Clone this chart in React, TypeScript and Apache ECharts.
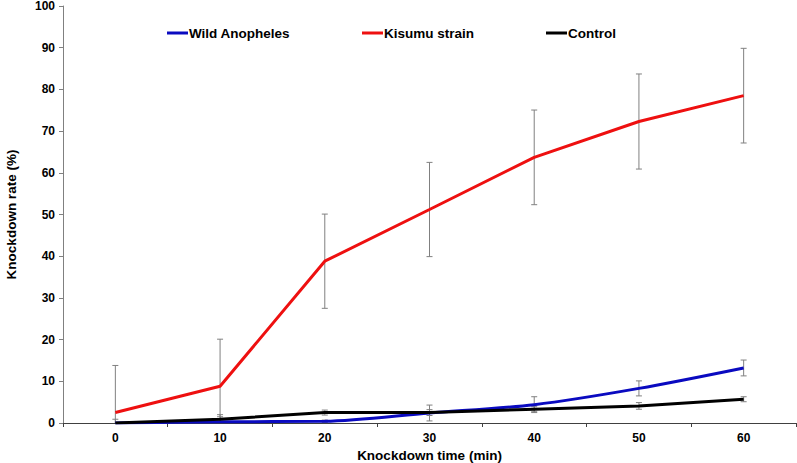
import React, { useEffect, useRef } from "react";
import * as echarts from "echarts";

const categories = ["0", "10", "20", "30", "40", "50", "60"];
const wildValues = [0, 0.3, 0.4, 2.4, 4.4, 8.3, 13.2];
const wildErrors = [0, 1.2, 0.3, 1.9, 1.9, 1.8, 1.9];
const kisumuValues = [2.5, 8.8, 38.8, 51.2, 63.7, 72.3, 78.5];
const kisumuErrors = [11.3, 11.3, 11.3, 11.3, 11.35, 11.4, 11.35];
const controlValues = [0, 0.9, 2.5, 2.5, 3.3, 4.1, 5.7];
const controlErrors = [0.9, 1.1, 0.6, 0.7, 0.6, 0.8, 0.6];
const yTicks = [0, 10, 20, 30, 40, 50, 60, 70, 80, 90, 100];

const FONT = "'Liberation Sans', Arial, sans-serif";

function errorSeries(name: string, values: number[], errors: number[]) {
  const data = values.map((v, i) => [i, v - errors[i], v + errors[i]]);
  return {
    type: "custom",
    name: name + " err",
    z: 1,
    silent: true,
    data,
    renderItem: (params: any, api: any) => {
      const x = api.value(0);
      let lo = api.value(1);
      const hi = api.value(2);
      if (hi - lo <= 0) return null;
      const clipped = lo < 0;
      if (clipped) lo = 0;
      const top = api.coord([x, hi]);
      const bot = api.coord([x, lo]);
      const cw = 3;
      const style = { stroke: "#808080", lineWidth: 1 };
      const children: any[] = [
        { type: "line", shape: { x1: top[0], y1: top[1], x2: bot[0], y2: bot[1] }, style },
        { type: "line", shape: { x1: top[0] - cw, y1: top[1], x2: top[0] + cw, y2: top[1] }, style },
      ];
      if (!clipped) {
        children.push({ type: "line", shape: { x1: bot[0] - cw, y1: bot[1], x2: bot[0] + cw, y2: bot[1] }, style });
      }
      return { type: "group", children };
    },
  };
}

export default function App() {
  const ref = useRef<HTMLDivElement>(null);
  useEffect(() => {
    if (!ref.current) return;
    const chart = echarts.init(ref.current, null, { renderer: "svg" });
    const legendBase = {
      top: 21,
      icon: "rect",
      itemWidth: 21,
      itemHeight: 3,
      itemGap: 0,
      textStyle: { fontFamily: FONT, fontWeight: "bold", fontSize: 13.5, color: "#000", padding: [0, 0, 0, -4] },
    };
    chart.setOption({
      animation: false,
      backgroundColor: "#fff",
      grid: { left: 63, right: 1, top: 6, bottom: 40, containLabel: false, outerBoundsMode: "none" },
      legend: [
        { ...legendBase, left: 162, data: ["Wild Anopheles"] },
        { ...legendBase, left: 357, data: ["Kisumu strain"] },
        { ...legendBase, left: 541, data: ["Control"] },
      ],
      xAxis: {
        type: "category",
        data: categories,
        boundaryGap: true,
        name: "Knockdown time (min)",
        nameLocation: "middle",
        nameGap: 24,
        nameTextStyle: { fontFamily: FONT, fontWeight: "bold", fontSize: 13.5, color: "#000" },
        axisLine: { lineStyle: { color: "#404040", width: 1 } },
        axisTick: { show: true, length: 4, lineStyle: { color: "#404040" } },
        axisLabel: { fontFamily: FONT, fontWeight: "bold", fontSize: 12, color: "#000", margin: 9 },
        splitLine: { show: false },
      },
      yAxis: {
        type: "value",
        min: yTicks[0],
        max: yTicks[yTicks.length - 1],
        interval: 10,
        name: "Knockdown rate (%)",
        nameLocation: "middle",
        nameGap: 45,
        nameTextStyle: { fontFamily: FONT, fontWeight: "bold", fontSize: 13.5, color: "#000" },
        axisLine: { show: true, lineStyle: { color: "#808080", width: 1 } },
        axisTick: { show: true, length: 4, lineStyle: { color: "#808080" } },
        axisLabel: { fontFamily: FONT, fontWeight: "bold", fontSize: 12, color: "#000", margin: 8 },
        splitLine: { show: false },
      },
      series: [
        errorSeries("Wild Anopheles", wildValues, wildErrors),
        errorSeries("Control", controlValues, controlErrors),
        errorSeries("Kisumu strain", kisumuValues, kisumuErrors),
        {
          type: "line",
          name: "Wild Anopheles",
          data: wildValues,
          smooth: 0.3,
          showSymbol: false,
          symbol: "none",
          z: 3,
          lineStyle: { color: "#0a0ac0", width: 3 },
          itemStyle: { color: "#0a0ac0" },
        },
        {
          type: "line",
          name: "Control",
          data: controlValues,
          showSymbol: false,
          symbol: "none",
          z: 4,
          lineStyle: { color: "#000000", width: 3 },
          itemStyle: { color: "#000000" },
        },
        {
          type: "line",
          name: "Kisumu strain",
          data: kisumuValues,
          showSymbol: false,
          symbol: "none",
          z: 5,
          lineStyle: { color: "#ee1010", width: 3 },
          itemStyle: { color: "#ee1010" },
        },
      ],
    });
    return () => chart.dispose();
  }, []);
  return <div ref={ref} style={{ width: 797, height: 463, position: "absolute", left: 0, top: 0 }} />;
}
